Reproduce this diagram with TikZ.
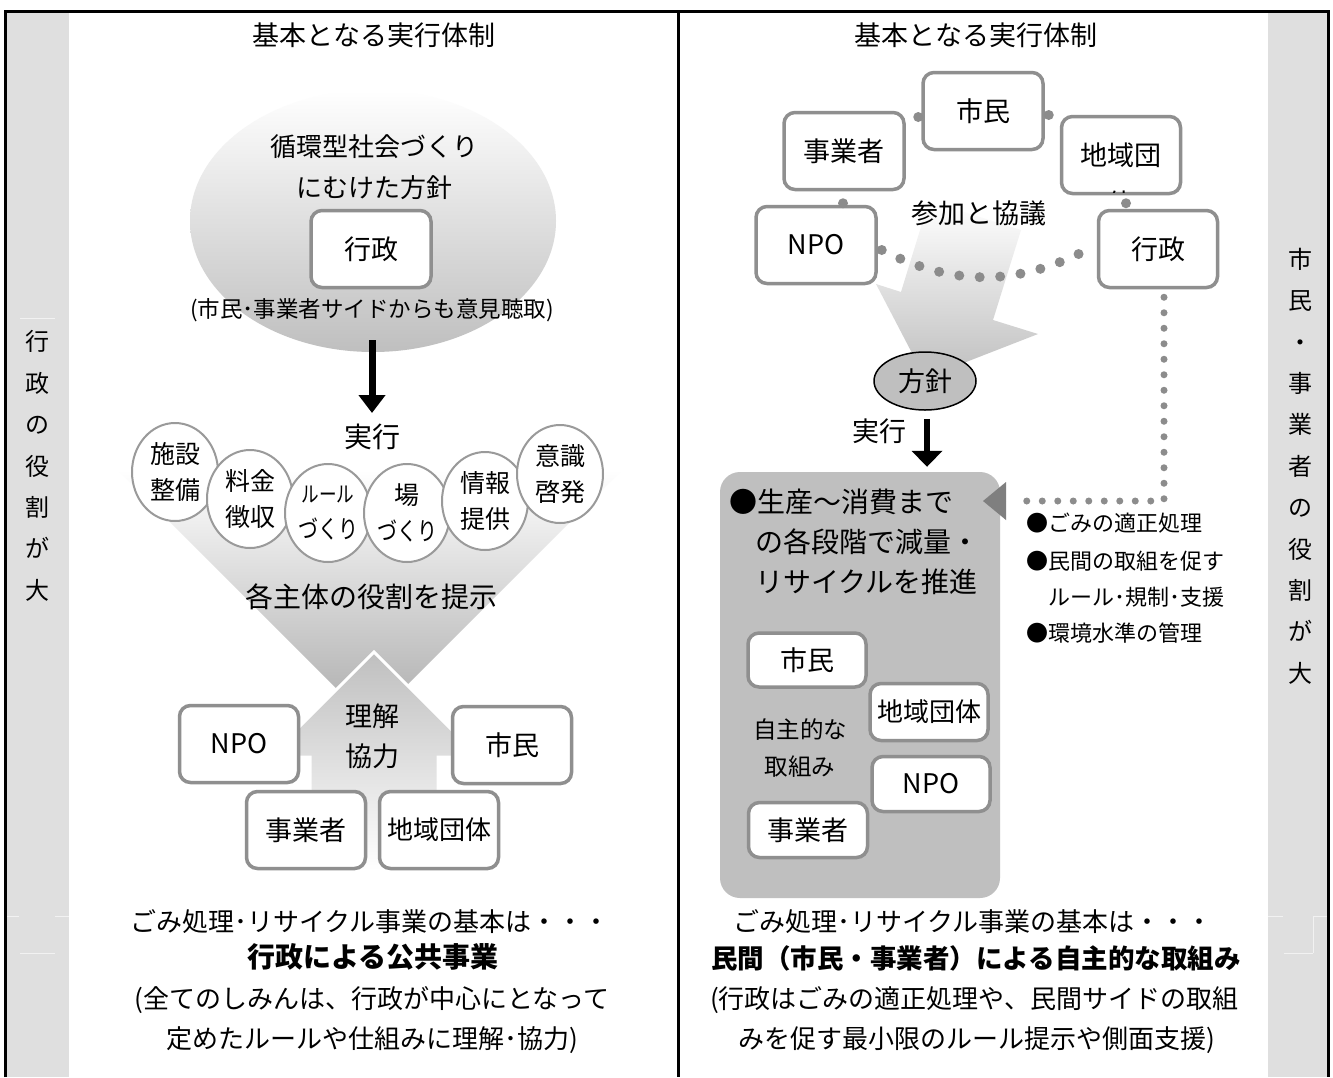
\documentclass[tikz,border=0pt]{standalone}
\usepackage{fontspec}
\usepackage{graphicx}
\setmainfont{Noto Sans CJK JP}
\usetikzlibrary{arrows.meta,shapes.geometric,calc}
\definecolor{barc}{HTML}{DFDFDF}
\definecolor{boxb}{HTML}{8F8F8F}
\definecolor{circb}{HTML}{9A9A9A}
\definecolor{midg}{HTML}{BFBFBF}
\definecolor{chevc}{HTML}{ACACAC}
\definecolor{dotc}{HTML}{8C8C8C}
\definecolor{trig}{HTML}{7F7F7F}
\definecolor{faint}{HTML}{F2F2F2}
\newcommand{\fsz}[2]{\fontsize{#1}{#2}\selectfont}
\newcommand{\narrow}[1]{\scalebox{0.8}[1]{#1}}
\begin{document}
\begin{tikzpicture}[x=1pt,y=-1pt,
  rbox/.style={draw=boxb,line width=3.5pt,rounded corners=11pt,fill=white,inner sep=0pt,
    minimum width=119pt,minimum height=77pt,font=\fsz{27}{32}},
  rcirc/.style={ellipse,draw=circb,line width=2pt,fill=white,minimum width=86pt,
    minimum height=98pt,inner sep=0pt,align=center,font=\fsz{25}{36}},
  txt/.style={inner sep=0pt,font=\fsz{26}{32}},
  vtxt/.style={inner sep=0pt,align=center,font=\fsz{24}{41.4}},
  barrow/.style={line width=7pt,-{Triangle[width=26pt,length=18pt]}},
  dotcurve/.style={draw=dotc,line width=10pt,line cap=round,dash pattern=on 0pt off 20.5pt},
  dotline/.style={draw=dotc,line width=7pt,line cap=round,dash pattern=on 0pt off 15.5pt},
]
\useasboundingbox (0,0) rectangle (1333,1077);
\fill[white] (0,0) rectangle (1333,1077);
% side bars
\fill[barc] (5,11) rectangle (69,1077);
\fill[barc] (1268,11) rectangle (1328,1077);
\draw[faint,line width=1pt] (20,318) -- (55,318);
\draw[faint,line width=1pt] (5,916) -- (19,916) (55,916) -- (69,916) (20,953) -- (55,953);
\draw[faint,line width=1pt] (1268,916) -- (1283,916) (1313,916) -- (1328,916) (1313,916) -- (1313,953) (1284,953) -- (1313,953);
% frame
\draw[line width=3pt] (5,1077) -- (5,11) -- (1328,11) -- (1328,1077);
\draw[line width=3pt] (678,11) -- (678,1077);
% vertical texts
\node[vtxt] (vl) at (37,466) {行\\政\\の\\役\\割\\が\\大};
\node[vtxt] (vr) at (1300,466) {市\\民\\・\\事\\業\\者\\の\\役\\割\\が\\大};

% ================= LEFT PANEL =================
\node[txt,font=\fsz{27}{32}] (ltitle) at (374,35) {基本となる実行体制};
\node[ellipse,minimum width=366pt,minimum height=262pt,top color=white,bottom color=midg,inner sep=0pt] (lell) at (373,221) {};
\node[txt,align=center,font=\fsz{26}{41}] (lpol) at (374,167) {循環型社会づくり\\にむけた方針};
\node[rbox,minimum width=120pt] (lgyo) at (371,249) {行政};
\node[txt,font=\fsz{22.5}{28}] (lopin) at (372,310) {(市民･事業者サイドからも意見聴取)};
% down chevron and up arrow
\shade[top color=white,bottom color=chevc] (118,470) -- (622,470) -- (370,722) -- cycle;
\path[draw=white,line width=3pt,top color=midg,bottom color=white]
  (374,652) -- (479,757) -- (438,757) -- (438,870) -- (310,870) -- (310,757) -- (269,757) -- cycle;
\node[txt,font=\fsz{28}{32}] (ljik) at (372,437) {実行};
\coordinate (la1) at (372,340);
\draw[barrow] (la1) -- (ljik.north |- 0,413);
\node[rcirc] (c1) at (175,472) {施設\\整備};
\node[rcirc] (c2) at (250,499) {料金\\徴収};
\node[rcirc] (c3) at (328,513) {{\fsz{22}{36}\narrow{ルール}}\\\narrow{づくり}};
\node[rcirc] (c4) at (407,513) {場\\\narrow{づくり}};
\node[rcirc] (c5) at (485,501) {情報\\提供};
\node[rcirc] (c6) at (560,474) {意識\\啓発};
\node[txt,font=\fsz{28}{32}] (lrole) at (371,597) {各主体の役割を提示};
\node[txt,align=center,font=\fsz{27}{40}] (rikai) at (372,736) {理解\\協力};
\node[rbox] (lnpo) at (239,744) {NPO};
\node[rbox] (lshi) at (512,745) {市民};
\node[rbox] (ljig) at (306,830) {事業者};
\node[rbox,font=\fsz{26}{32}] (lchi) at (439,830) {地域団体};
% bottom text
\node[txt] (lb1) at (370,922) {ごみ処理･リサイクル事業の基本は・・・};
\node[txt,font=\fsz{28}{32}\bfseries] (lb2) at (373,957) {行政による公共事業};
\node[txt] (lb3) at (372,1000) {(全てのしみんは、行政が中心にとなって};
\node[txt] (lb4) at (372,1040) {定めたルールや仕組みに理解･協力)};

% ================= RIGHT PANEL =================
\node[txt,font=\fsz{27}{32}] (rtitle) at (976,35) {基本となる実行体制};
% big gradient arrow
\path[top color=white,bottom color=midg]
  (929,201) -- (1021,230) -- (993,320) -- (1038,334) -- (925,378) -- (876,284) -- (901,292) -- cycle;
\node[rbox,minimum width=120pt] (rshi) at (983,111) {市民};
\node[rbox,minimum width=120pt] (rjig) at (844,151) {事業者};
\node[rbox] (rchi) at (1121,155) {\raisebox{-5pt}{地域団}};
\begin{scope}
\clip ($(rchi.south west)+(3,-3)$) rectangle ($(rchi.north east)+(-3,3)$);
\node[txt,font=\fsz{27}{32}] (rchib) at (1121,203) {体};
\end{scope}
\node[rbox,minimum width=120pt] (rnpo) at (816,245) {NPO};
\node[rbox] (rgyo) at (1158,249) {行政};
\node[txt,font=\fsz{27}{32}] (sanka) at (979,213) {参加と協議};
% connector dots
\fill[dotc] ($(rshi.west)+(-3,6)$) circle (5);
\fill[dotc] ($(rshi.east)+(4,4)$) circle (5);
\fill[dotc] ($(rjig.south)+(-1,12)$) circle (5);
\fill[dotc] ($(rchi.south)+(5,8)$) circle (5);
\draw[dotcurve] ($(rnpo.east)+(4,5)$) to[bend right=27] ($(rgyo.west)+(-10,1)$);
% policy ellipse and arrow
\node[ellipse,draw=black,line width=1.5pt,fill=midg,minimum width=102pt,minimum height=58pt,inner sep=0pt,font=\fsz{27}{32}] (hoshin) at (925,381) {方針};
\node[txt,font=\fsz{27}{32}] (rjik) at (879,431) {実行};
% big box
\node[fill=midg,rounded corners=20pt,minimum width=280pt,minimum height=426pt,inner sep=0pt] (bigbox) at (860,685) {};
\draw[line width=6pt,-{Triangle[width=30pt,length=16pt]},shorten <=8pt,shorten >=5pt] (hoshin.south) ++(2,0) -- (bigbox.north -| 927,0);
\node[txt,anchor=west,font=\fsz{28}{32}] (bt1) at (729,502) {●生産～消費まで};
\node[txt,anchor=west,font=\fsz{28}{32}] (bt2) at (755,542) {の各段階で減量・};
\node[txt,anchor=west,font=\fsz{28}{32}] (bt3) at (755,582) {リサイクルを推進};
\node[rbox,minimum width=118pt,minimum height=54pt] (ishi) at (807,660) {市民};
\node[rbox,minimum width=118pt,minimum height=57pt,font=\fsz{26}{32}] (ichi) at (929,712) {地域団体};
\node[rbox,minimum width=118pt,minimum height=55pt] (inpo) at (931,784) {NPO};
\node[rbox,minimum width=119pt,minimum height=55pt] (ijig) at (808,830) {事業者};
\node[txt,align=center,font=\fsz{23.5}{37}] (jishu) at (800,748) {自主的な\\取組み};
% dotted L connector with arrowhead
\coordinate (triR) at (1006,501);
\draw[dotline] ($(rgyo.south)+(6,8)$) |- ($(triR)+(10,0)$);
\fill[trig] (triR) -- ++(-23,0) -- ++(23,-19) -- cycle;
\fill[trig] (triR) -- ++(-23,0) -- ++(23,19) -- cycle;
% bullet list
\node[txt,anchor=west,font=\fsz{22}{28}] (bl1) at (1026,523) {●ごみの適正処理};
\node[txt,anchor=west,font=\fsz{22}{28}] (bl2) at (1026,561) {●民間の取組を促す};
\node[txt,anchor=west,font=\fsz{22}{28}] (bl3) at (1048,597) {ルール･規制･支援};
\node[txt,anchor=west,font=\fsz{22}{28}] (bl4) at (1026,633) {●環境水準の管理};
% bottom text
\node[txt] (rb1) at (973,922) {ごみ処理･リサイクル事業の基本は・・・};
\node[txt,font=\fsz{26.5}{32}\bfseries] (rb2) at (976,958) {民間（市民・事業者）による自主的な取組み};
\node[txt] (rb3) at (974,1000) {(行政はごみの適正処理や、民間サイドの取組};
\node[txt] (rb4) at (977,1040) {みを促す最小限のルール提示や側面支援)};
\end{tikzpicture}
\end{document}
